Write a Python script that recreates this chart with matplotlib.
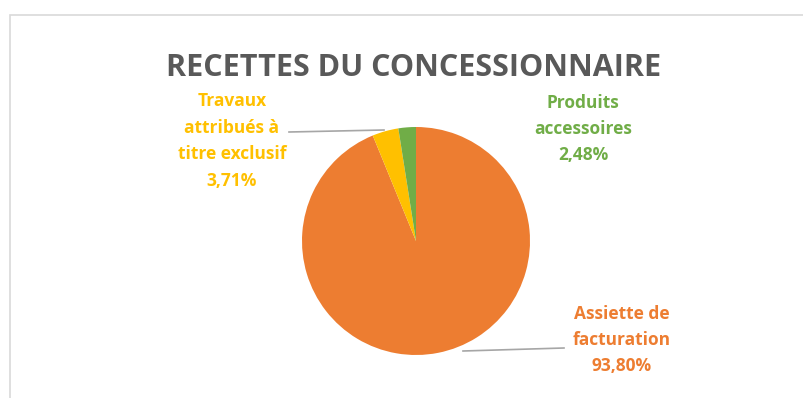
import matplotlib
matplotlib.use("Agg")
import matplotlib.pyplot as plt
from matplotlib.patches import Rectangle

# Revenue breakdown (percent)
categories = ["Assiette de\nfacturation", "Travaux\nattribués à\ntitre exclusif", "Produits\naccessoires"]
values = [93.80, 3.71, 2.48]
value_labels = ["93,80%", "3,71%", "2,48%"]
colors = ["#ED7D31", "#FFC000", "#70AD47"]
title = "RECETTES DU CONCESSIONNAIRE"

W, H = 804, 398
fig = plt.figure(figsize=(W / 100, H / 100), dpi=100)
ax = fig.add_axes([0, 0, 1, 1])


def Y(y):
    return H - y


cx, cy, r = 416, 241, 114
ax.pie(values, colors=colors, startangle=90, counterclock=False,
       center=(cx, Y(cy)), radius=r, frame=True,
       wedgeprops=dict(linewidth=0))
ax.set_xlim(0, W)
ax.set_ylim(0, H)
ax.set_aspect("equal")
ax.axis("off")

# chart area frame
ax.add_patch(Rectangle((10.5, Y(398 + 20)), W, 398 + 20 - 14.5, fill=False,
                       edgecolor="#D9D9D9", lw=1.2))

font = "Open Sans"
ax.text(414, Y(68), title, ha="center", va="center", fontsize=22,
        fontweight="bold", color="#595959", family=font)

# data labels
label_pos = [(622, 340), (232, 141), (583, 129)]
for cat, vl, col, (lx, ly) in zip(categories, value_labels, colors, label_pos):
    ax.text(lx, Y(ly), cat + "\n" + vl, ha="center", va="center",
            fontsize=12.5, fontweight="bold", color=col, family=font,
            linespacing=1.6)

# leader lines
ax.plot([289, 384], [Y(132), Y(130)], color="#A6A6A6", lw=1.2)
ax.plot([463, 564], [Y(351), Y(348)], color="#A6A6A6", lw=1.2)

fig.savefig("out.png", dpi=100, facecolor="white")
